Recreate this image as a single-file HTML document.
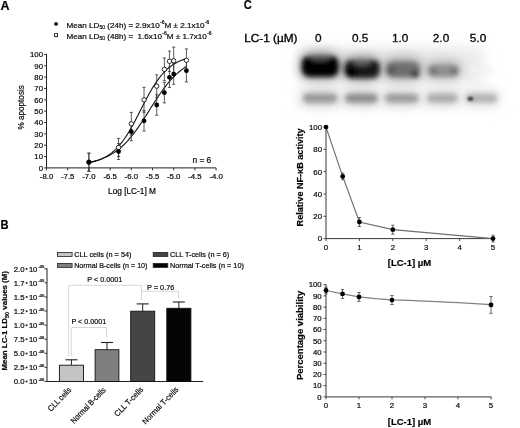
<!DOCTYPE html>
<html><head><meta charset="utf-8"><style>
html,body{margin:0;padding:0;background:#fff;width:520px;height:428px;overflow:hidden;}
svg{display:block;filter:blur(0.4px);font-family:"Liberation Sans",sans-serif;}
text{stroke:#1a1a1a;stroke-width:0.22px;}
</style></head><body>
<svg width="520" height="428" viewBox="0 0 520 428">
<rect width="520" height="428" fill="#fff"/>
<text x="0.6" y="9.8" font-size="12.5" font-weight="bold" font-family="&quot;Liberation Sans&quot;, sans-serif">A</text>
<path d="M46.5 53.9V167.9H216.1" stroke="#222" stroke-width="1" fill="none"/>
<line x1="44.0" y1="167.9" x2="46.5" y2="167.9" stroke="#222" stroke-width="0.9"/>
<text x="43.0" y="170.7" font-size="7.8" text-anchor="end" font-family="&quot;Liberation Sans&quot;, sans-serif">0</text>
<line x1="44.0" y1="156.55" x2="46.5" y2="156.55" stroke="#222" stroke-width="0.9"/>
<text x="43.0" y="159.35" font-size="7.8" text-anchor="end" font-family="&quot;Liberation Sans&quot;, sans-serif">10</text>
<line x1="44.0" y1="145.2" x2="46.5" y2="145.2" stroke="#222" stroke-width="0.9"/>
<text x="43.0" y="148" font-size="7.8" text-anchor="end" font-family="&quot;Liberation Sans&quot;, sans-serif">20</text>
<line x1="44.0" y1="133.85" x2="46.5" y2="133.85" stroke="#222" stroke-width="0.9"/>
<text x="43.0" y="136.65" font-size="7.8" text-anchor="end" font-family="&quot;Liberation Sans&quot;, sans-serif">30</text>
<line x1="44.0" y1="122.5" x2="46.5" y2="122.5" stroke="#222" stroke-width="0.9"/>
<text x="43.0" y="125.3" font-size="7.8" text-anchor="end" font-family="&quot;Liberation Sans&quot;, sans-serif">40</text>
<line x1="44.0" y1="111.15" x2="46.5" y2="111.15" stroke="#222" stroke-width="0.9"/>
<text x="43.0" y="113.95" font-size="7.8" text-anchor="end" font-family="&quot;Liberation Sans&quot;, sans-serif">50</text>
<line x1="44.0" y1="99.8" x2="46.5" y2="99.8" stroke="#222" stroke-width="0.9"/>
<text x="43.0" y="102.6" font-size="7.8" text-anchor="end" font-family="&quot;Liberation Sans&quot;, sans-serif">60</text>
<line x1="44.0" y1="88.45" x2="46.5" y2="88.45" stroke="#222" stroke-width="0.9"/>
<text x="43.0" y="91.25" font-size="7.8" text-anchor="end" font-family="&quot;Liberation Sans&quot;, sans-serif">70</text>
<line x1="44.0" y1="77.1" x2="46.5" y2="77.1" stroke="#222" stroke-width="0.9"/>
<text x="43.0" y="79.9" font-size="7.8" text-anchor="end" font-family="&quot;Liberation Sans&quot;, sans-serif">80</text>
<line x1="44.0" y1="65.75" x2="46.5" y2="65.75" stroke="#222" stroke-width="0.9"/>
<text x="43.0" y="68.55" font-size="7.8" text-anchor="end" font-family="&quot;Liberation Sans&quot;, sans-serif">90</text>
<line x1="44.0" y1="54.4" x2="46.5" y2="54.4" stroke="#222" stroke-width="0.9"/>
<text x="43.0" y="57.2" font-size="7.8" text-anchor="end" font-family="&quot;Liberation Sans&quot;, sans-serif">100</text>
<line x1="46.5" y1="167.9" x2="46.5" y2="170.4" stroke="#222" stroke-width="0.9"/>
<text x="46.5" y="179.2" font-size="7.8" text-anchor="middle" font-family="&quot;Liberation Sans&quot;, sans-serif">-8.0</text>
<line x1="67.7" y1="167.9" x2="67.7" y2="170.4" stroke="#222" stroke-width="0.9"/>
<text x="67.7" y="179.2" font-size="7.8" text-anchor="middle" font-family="&quot;Liberation Sans&quot;, sans-serif">-7.5</text>
<line x1="88.9" y1="167.9" x2="88.9" y2="170.4" stroke="#222" stroke-width="0.9"/>
<text x="88.9" y="179.2" font-size="7.8" text-anchor="middle" font-family="&quot;Liberation Sans&quot;, sans-serif">-7.0</text>
<line x1="110.1" y1="167.9" x2="110.1" y2="170.4" stroke="#222" stroke-width="0.9"/>
<text x="110.1" y="179.2" font-size="7.8" text-anchor="middle" font-family="&quot;Liberation Sans&quot;, sans-serif">-6.5</text>
<line x1="131.3" y1="167.9" x2="131.3" y2="170.4" stroke="#222" stroke-width="0.9"/>
<text x="131.3" y="179.2" font-size="7.8" text-anchor="middle" font-family="&quot;Liberation Sans&quot;, sans-serif">-6.0</text>
<line x1="152.5" y1="167.9" x2="152.5" y2="170.4" stroke="#222" stroke-width="0.9"/>
<text x="152.5" y="179.2" font-size="7.8" text-anchor="middle" font-family="&quot;Liberation Sans&quot;, sans-serif">-5.5</text>
<line x1="173.7" y1="167.9" x2="173.7" y2="170.4" stroke="#222" stroke-width="0.9"/>
<text x="173.7" y="179.2" font-size="7.8" text-anchor="middle" font-family="&quot;Liberation Sans&quot;, sans-serif">-5.0</text>
<line x1="194.9" y1="167.9" x2="194.9" y2="170.4" stroke="#222" stroke-width="0.9"/>
<text x="194.9" y="179.2" font-size="7.8" text-anchor="middle" font-family="&quot;Liberation Sans&quot;, sans-serif">-4.5</text>
<line x1="216.1" y1="167.9" x2="216.1" y2="170.4" stroke="#222" stroke-width="0.9"/>
<text x="216.1" y="179.2" font-size="7.8" text-anchor="middle" font-family="&quot;Liberation Sans&quot;, sans-serif">-4.0</text>
<text x="132.0" y="194" font-size="8.3" text-anchor="middle" font-family="&quot;Liberation Sans&quot;, sans-serif">Log [LC-1] M</text>
<text transform="translate(24.2,107.3) rotate(-90)" font-size="8.8" text-anchor="middle" textLength="44.2" lengthAdjust="spacingAndGlyphs" font-family="&quot;Liberation Sans&quot;, sans-serif">% apoptosis</text>
<text x="192.5" y="162.5" font-size="8.3" font-family="&quot;Liberation Sans&quot;, sans-serif">n = 6</text>
<rect x="54.4" y="22.4" width="3.3" height="3.1" fill="#000"/>
<rect x="54.6" y="33.7" width="3" height="3" fill="#fff" stroke="#000" stroke-width="0.8"/>
<text x="66.6" y="27.6" font-size="8.1" font-family="&quot;Liberation Sans&quot;, sans-serif">Mean LD<tspan font-size="5" dy="1.5">50</tspan><tspan dy="-1.5"> (24h) = 2.9x10</tspan><tspan font-size="5" dy="-3.6" dx="0.4">-6</tspan><tspan dy="3.6">M ± 2.1x10</tspan><tspan font-size="5" dy="-3.6" dx="0.4">-6</tspan></text>
<text x="66.6" y="38.5" font-size="8.1" style="white-space:pre" font-family="&quot;Liberation Sans&quot;, sans-serif">Mean LD<tspan font-size="5" dy="1.5">50</tspan><tspan dy="-1.5"> (48h) =  1.6x10</tspan><tspan font-size="5" dy="-3.6" dx="0.4">-6</tspan><tspan dy="3.6">M ± 1.7x10</tspan><tspan font-size="5" dy="-3.6" dx="0.4">-6</tspan></text>
<path d="M88.90,162.82 L90.12,162.57 L91.34,162.31 L92.56,162.02 L93.78,161.70 L94.99,161.36 L96.21,161.00 L97.43,160.60 L98.65,160.17 L99.87,159.70 L101.09,159.20 L102.31,158.66 L103.53,158.08 L104.75,157.45 L105.97,156.77 L107.19,156.04 L108.40,155.26 L109.62,154.42 L110.84,153.53 L112.06,152.57 L113.28,151.54 L114.50,150.45 L115.72,149.28 L116.94,148.05 L118.16,146.73 L119.38,145.35 L120.59,143.88 L121.81,142.33 L123.03,140.71 L124.25,139.01 L125.47,137.22 L126.69,135.37 L127.91,133.43 L129.13,131.43 L130.35,129.36 L131.56,127.22 L132.78,125.03 L134.00,122.79 L135.22,120.50 L136.44,118.18 L137.66,115.82 L138.88,113.44 L140.10,111.06 L141.32,108.66 L142.54,106.27 L143.75,103.90 L144.97,101.55 L146.19,99.23 L147.41,96.95 L148.63,94.71 L149.85,92.52 L151.07,90.40 L152.29,88.34 L153.51,86.34 L154.73,84.42 L155.94,82.57 L157.16,80.80 L158.38,79.10 L159.60,77.49 L160.82,75.95 L162.04,74.50 L163.26,73.12 L164.48,71.82 L165.70,70.59 L166.92,69.44 L168.13,68.35 L169.35,67.34 L170.57,66.38 L171.79,65.49 L173.01,64.66 L174.23,63.89 L175.45,63.17 L176.67,62.50 L177.89,61.88 L179.11,61.30 L180.32,60.76 L181.54,60.26 L182.76,59.80 L183.98,59.38 L185.20,58.98 L186.42,58.62" stroke="#111" stroke-width="1.1" fill="none"/>
<path d="M88.90,162.23 L90.12,162.00 L91.34,161.74 L92.56,161.47 L93.78,161.19 L94.99,160.88 L96.21,160.55 L97.43,160.21 L98.65,159.84 L99.87,159.44 L101.09,159.02 L102.31,158.58 L103.53,158.10 L104.75,157.60 L105.97,157.07 L107.19,156.50 L108.40,155.90 L109.62,155.27 L110.84,154.60 L112.06,153.89 L113.28,153.14 L114.50,152.34 L115.72,151.51 L116.94,150.63 L118.16,149.70 L119.38,148.73 L120.59,147.71 L121.81,146.64 L123.03,145.52 L124.25,144.35 L125.47,143.13 L126.69,141.86 L127.91,140.53 L129.13,139.15 L130.35,137.73 L131.56,136.25 L132.78,134.72 L134.00,133.15 L135.22,131.52 L136.44,129.86 L137.66,128.15 L138.88,126.41 L140.10,124.62 L141.32,122.81 L142.54,120.96 L143.75,119.09 L144.97,117.20 L146.19,115.29 L147.41,113.37 L148.63,111.44 L149.85,109.51 L151.07,107.58 L152.29,105.65 L153.51,103.74 L154.73,101.84 L155.94,99.96 L157.16,98.10 L158.38,96.27 L159.60,94.47 L160.82,92.71 L162.04,90.98 L163.26,89.30 L164.48,87.65 L165.70,86.06 L166.92,84.51 L168.13,83.00 L169.35,81.55 L170.57,80.15 L171.79,78.80 L173.01,77.50 L174.23,76.26 L175.45,75.06 L176.67,73.92 L177.89,72.82 L179.11,71.78 L180.32,70.79 L181.54,69.84 L182.76,68.94 L183.98,68.08 L185.20,67.27 L186.42,66.50" stroke="#111" stroke-width="1.1" fill="none"/>
<line x1="88.9" y1="153.15" x2="88.9" y2="171.31" stroke="#333" stroke-width="0.8"/><line x1="87.3" y1="153.15" x2="90.5" y2="153.15" stroke="#333" stroke-width="0.8"/><line x1="87.3" y1="171.31" x2="90.5" y2="171.31" stroke="#333" stroke-width="0.8"/>
<line x1="118.58" y1="138.39" x2="118.58" y2="156.55" stroke="#333" stroke-width="0.8"/><line x1="116.98" y1="138.39" x2="120.18" y2="138.39" stroke="#333" stroke-width="0.8"/><line x1="116.98" y1="156.55" x2="120.18" y2="156.55" stroke="#333" stroke-width="0.8"/>
<line x1="131.3" y1="112.4" x2="131.3" y2="135.1" stroke="#333" stroke-width="0.8"/><line x1="129.7" y1="112.4" x2="132.9" y2="112.4" stroke="#333" stroke-width="0.8"/><line x1="129.7" y1="135.1" x2="132.9" y2="135.1" stroke="#333" stroke-width="0.8"/>
<line x1="144.02" y1="87.32" x2="144.02" y2="112.28" stroke="#333" stroke-width="0.8"/><line x1="142.42" y1="87.32" x2="145.62" y2="87.32" stroke="#333" stroke-width="0.8"/><line x1="142.42" y1="112.28" x2="145.62" y2="112.28" stroke="#333" stroke-width="0.8"/>
<line x1="156.74" y1="74.83" x2="156.74" y2="97.53" stroke="#333" stroke-width="0.8"/><line x1="155.14" y1="74.83" x2="158.34" y2="74.83" stroke="#333" stroke-width="0.8"/><line x1="155.14" y1="97.53" x2="158.34" y2="97.53" stroke="#333" stroke-width="0.8"/>
<line x1="164.37" y1="58.03" x2="164.37" y2="80.73" stroke="#333" stroke-width="0.8"/><line x1="162.77" y1="58.03" x2="165.97" y2="58.03" stroke="#333" stroke-width="0.8"/><line x1="162.77" y1="80.73" x2="165.97" y2="80.73" stroke="#333" stroke-width="0.8"/>
<line x1="169.46" y1="51.11" x2="169.46" y2="71.54" stroke="#333" stroke-width="0.8"/><line x1="167.86" y1="51.11" x2="171.06" y2="51.11" stroke="#333" stroke-width="0.8"/><line x1="167.86" y1="71.54" x2="171.06" y2="71.54" stroke="#333" stroke-width="0.8"/>
<line x1="173.7" y1="47.14" x2="173.7" y2="74.38" stroke="#333" stroke-width="0.8"/><line x1="172.1" y1="47.14" x2="175.3" y2="47.14" stroke="#333" stroke-width="0.8"/><line x1="172.1" y1="74.38" x2="175.3" y2="74.38" stroke="#333" stroke-width="0.8"/>
<line x1="186.42" y1="48.95" x2="186.42" y2="71.65" stroke="#333" stroke-width="0.8"/><line x1="184.82" y1="48.95" x2="188.02" y2="48.95" stroke="#333" stroke-width="0.8"/><line x1="184.82" y1="71.65" x2="188.02" y2="71.65" stroke="#333" stroke-width="0.8"/>
<line x1="88.9" y1="153.15" x2="88.9" y2="171.31" stroke="#333" stroke-width="0.8"/><line x1="87.3" y1="153.15" x2="90.5" y2="153.15" stroke="#333" stroke-width="0.8"/><line x1="87.3" y1="171.31" x2="90.5" y2="171.31" stroke="#333" stroke-width="0.8"/>
<line x1="118.58" y1="143.61" x2="118.58" y2="159.5" stroke="#333" stroke-width="0.8"/><line x1="116.98" y1="143.61" x2="120.18" y2="143.61" stroke="#333" stroke-width="0.8"/><line x1="116.98" y1="159.5" x2="120.18" y2="159.5" stroke="#333" stroke-width="0.8"/>
<line x1="131.3" y1="122.61" x2="131.3" y2="140.77" stroke="#333" stroke-width="0.8"/><line x1="129.7" y1="122.61" x2="132.9" y2="122.61" stroke="#333" stroke-width="0.8"/><line x1="129.7" y1="140.77" x2="132.9" y2="140.77" stroke="#333" stroke-width="0.8"/>
<line x1="144.02" y1="110.58" x2="144.02" y2="131.01" stroke="#333" stroke-width="0.8"/><line x1="142.42" y1="110.58" x2="145.62" y2="110.58" stroke="#333" stroke-width="0.8"/><line x1="142.42" y1="131.01" x2="145.62" y2="131.01" stroke="#333" stroke-width="0.8"/>
<line x1="156.74" y1="94.81" x2="156.74" y2="115.24" stroke="#333" stroke-width="0.8"/><line x1="155.14" y1="94.81" x2="158.34" y2="94.81" stroke="#333" stroke-width="0.8"/><line x1="155.14" y1="115.24" x2="158.34" y2="115.24" stroke="#333" stroke-width="0.8"/>
<line x1="164.37" y1="82.43" x2="164.37" y2="102.86" stroke="#333" stroke-width="0.8"/><line x1="162.77" y1="82.43" x2="165.97" y2="82.43" stroke="#333" stroke-width="0.8"/><line x1="162.77" y1="102.86" x2="165.97" y2="102.86" stroke="#333" stroke-width="0.8"/>
<line x1="169.46" y1="67.11" x2="169.46" y2="87.54" stroke="#333" stroke-width="0.8"/><line x1="167.86" y1="67.11" x2="171.06" y2="67.11" stroke="#333" stroke-width="0.8"/><line x1="167.86" y1="87.54" x2="171.06" y2="87.54" stroke="#333" stroke-width="0.8"/>
<line x1="173.7" y1="63.82" x2="173.7" y2="84.25" stroke="#333" stroke-width="0.8"/><line x1="172.1" y1="63.82" x2="175.3" y2="63.82" stroke="#333" stroke-width="0.8"/><line x1="172.1" y1="84.25" x2="175.3" y2="84.25" stroke="#333" stroke-width="0.8"/>
<line x1="186.42" y1="59.28" x2="186.42" y2="81.98" stroke="#333" stroke-width="0.8"/><line x1="184.82" y1="59.28" x2="188.02" y2="59.28" stroke="#333" stroke-width="0.8"/><line x1="184.82" y1="81.98" x2="188.02" y2="81.98" stroke="#333" stroke-width="0.8"/>
<circle cx="88.9" cy="162.22" r="2.2" fill="#fff" stroke="#000" stroke-width="0.8"/>
<circle cx="118.58" cy="147.47" r="2.2" fill="#fff" stroke="#000" stroke-width="0.8"/>
<circle cx="131.3" cy="123.75" r="2.2" fill="#fff" stroke="#000" stroke-width="0.8"/>
<circle cx="144.02" cy="99.8" r="2.2" fill="#fff" stroke="#000" stroke-width="0.8"/>
<circle cx="156.74" cy="86.18" r="2.2" fill="#fff" stroke="#000" stroke-width="0.8"/>
<circle cx="164.37" cy="69.38" r="2.2" fill="#fff" stroke="#000" stroke-width="0.8"/>
<circle cx="169.46" cy="61.32" r="2.2" fill="#fff" stroke="#000" stroke-width="0.8"/>
<circle cx="173.7" cy="60.76" r="2.2" fill="#fff" stroke="#000" stroke-width="0.8"/>
<circle cx="186.42" cy="60.3" r="2.2" fill="#fff" stroke="#000" stroke-width="0.8"/>
<circle cx="88.9" cy="162.22" r="2.4" fill="#000"/>
<circle cx="118.58" cy="151.56" r="2.4" fill="#000"/>
<circle cx="131.3" cy="131.69" r="2.4" fill="#000"/>
<circle cx="144.02" cy="120.8" r="2.4" fill="#000"/>
<circle cx="156.74" cy="105.02" r="2.4" fill="#000"/>
<circle cx="164.37" cy="92.65" r="2.4" fill="#000"/>
<circle cx="169.46" cy="77.33" r="2.4" fill="#000"/>
<circle cx="173.7" cy="74.04" r="2.4" fill="#000"/>
<circle cx="186.42" cy="70.63" r="2.4" fill="#000"/>
<text x="0.6" y="229.4" font-size="12.5" font-weight="bold" textLength="8.1" lengthAdjust="spacingAndGlyphs" font-family="&quot;Liberation Sans&quot;, sans-serif">B</text>
<path d="M47 268.28V381.5H203.2" stroke="#222" stroke-width="1" fill="none"/>
<line x1="44.5" y1="381.5" x2="47" y2="381.5" stroke="#222" stroke-width="0.9"/>
<text x="13.7" y="384.3" font-size="7.8" font-family="&quot;Liberation Sans&quot;, sans-serif">0.0</text>
<circle cx="26.6" cy="381.6" r="1" fill="#222"/>
<text x="28.9" y="384.3" font-size="7.6" font-family="&quot;Liberation Sans&quot;, sans-serif">10</text>
<text x="38.4" y="381.1" font-size="4.2" font-family="&quot;Liberation Sans&quot;, sans-serif">-06</text>
<line x1="44.5" y1="367.41" x2="47" y2="367.41" stroke="#222" stroke-width="0.9"/>
<text x="13.7" y="370.21" font-size="7.8" font-family="&quot;Liberation Sans&quot;, sans-serif">2.5</text>
<circle cx="26.6" cy="367.51" r="1" fill="#222"/>
<text x="28.9" y="370.21" font-size="7.6" font-family="&quot;Liberation Sans&quot;, sans-serif">10</text>
<text x="38.4" y="367.01" font-size="4.2" font-family="&quot;Liberation Sans&quot;, sans-serif">-06</text>
<line x1="44.5" y1="353.32" x2="47" y2="353.32" stroke="#222" stroke-width="0.9"/>
<text x="13.7" y="356.12" font-size="7.8" font-family="&quot;Liberation Sans&quot;, sans-serif">5.0</text>
<circle cx="26.6" cy="353.42" r="1" fill="#222"/>
<text x="28.9" y="356.12" font-size="7.6" font-family="&quot;Liberation Sans&quot;, sans-serif">10</text>
<text x="38.4" y="352.92" font-size="4.2" font-family="&quot;Liberation Sans&quot;, sans-serif">-06</text>
<line x1="44.5" y1="339.23" x2="47" y2="339.23" stroke="#222" stroke-width="0.9"/>
<text x="13.7" y="342.03" font-size="7.8" font-family="&quot;Liberation Sans&quot;, sans-serif">7.5</text>
<circle cx="26.6" cy="339.33" r="1" fill="#222"/>
<text x="28.9" y="342.03" font-size="7.6" font-family="&quot;Liberation Sans&quot;, sans-serif">10</text>
<text x="38.4" y="338.83" font-size="4.2" font-family="&quot;Liberation Sans&quot;, sans-serif">-06</text>
<line x1="44.5" y1="325.14" x2="47" y2="325.14" stroke="#222" stroke-width="0.9"/>
<text x="13.7" y="327.94" font-size="7.8" font-family="&quot;Liberation Sans&quot;, sans-serif">1.0</text>
<circle cx="26.6" cy="325.24" r="1" fill="#222"/>
<text x="28.9" y="327.94" font-size="7.6" font-family="&quot;Liberation Sans&quot;, sans-serif">10</text>
<text x="38.4" y="324.74" font-size="4.2" font-family="&quot;Liberation Sans&quot;, sans-serif">-05</text>
<line x1="44.5" y1="311.05" x2="47" y2="311.05" stroke="#222" stroke-width="0.9"/>
<text x="13.7" y="313.85" font-size="7.8" font-family="&quot;Liberation Sans&quot;, sans-serif">1.2</text>
<circle cx="26.6" cy="311.15" r="1" fill="#222"/>
<text x="28.9" y="313.85" font-size="7.6" font-family="&quot;Liberation Sans&quot;, sans-serif">10</text>
<text x="38.4" y="310.65" font-size="4.2" font-family="&quot;Liberation Sans&quot;, sans-serif">-05</text>
<line x1="44.5" y1="296.96" x2="47" y2="296.96" stroke="#222" stroke-width="0.9"/>
<text x="13.7" y="299.76" font-size="7.8" font-family="&quot;Liberation Sans&quot;, sans-serif">1.5</text>
<circle cx="26.6" cy="297.06" r="1" fill="#222"/>
<text x="28.9" y="299.76" font-size="7.6" font-family="&quot;Liberation Sans&quot;, sans-serif">10</text>
<text x="38.4" y="296.56" font-size="4.2" font-family="&quot;Liberation Sans&quot;, sans-serif">-05</text>
<line x1="44.5" y1="282.87" x2="47" y2="282.87" stroke="#222" stroke-width="0.9"/>
<text x="13.7" y="285.67" font-size="7.8" font-family="&quot;Liberation Sans&quot;, sans-serif">1.7</text>
<circle cx="26.6" cy="282.97" r="1" fill="#222"/>
<text x="28.9" y="285.67" font-size="7.6" font-family="&quot;Liberation Sans&quot;, sans-serif">10</text>
<text x="38.4" y="282.47" font-size="4.2" font-family="&quot;Liberation Sans&quot;, sans-serif">-05</text>
<line x1="44.5" y1="268.78" x2="47" y2="268.78" stroke="#222" stroke-width="0.9"/>
<text x="13.7" y="271.58" font-size="7.8" font-family="&quot;Liberation Sans&quot;, sans-serif">2.0</text>
<circle cx="26.6" cy="268.88" r="1" fill="#222"/>
<text x="28.9" y="271.58" font-size="7.6" font-family="&quot;Liberation Sans&quot;, sans-serif">10</text>
<text x="38.4" y="268.38" font-size="4.2" font-family="&quot;Liberation Sans&quot;, sans-serif">-05</text>
<text transform="translate(7.3,320.8) rotate(-90)" font-size="7.9" font-weight="bold" text-anchor="middle" font-family="&quot;Liberation Sans&quot;, sans-serif">Mean LC-1 LD<tspan font-size="5.5" dy="1.5">50</tspan><tspan dy="-1.5"> values (M)</tspan></text>
<line x1="71.45" y1="359.8" x2="71.45" y2="365.2" stroke="#222" stroke-width="1"/>
<line x1="65.45" y1="359.8" x2="77.45" y2="359.8" stroke="#222" stroke-width="1.1"/>
<rect x="59.4" y="365.2" width="24.1" height="16.3" fill="#c4c4c4" stroke="#111" stroke-width="0.9"/>
<line x1="107.0" y1="342.5" x2="107.0" y2="349.7" stroke="#222" stroke-width="1"/>
<line x1="101.0" y1="342.5" x2="113.0" y2="342.5" stroke="#222" stroke-width="1.1"/>
<rect x="95.1" y="349.7" width="23.8" height="31.8" fill="#7f7f7f" stroke="#111" stroke-width="0.9"/>
<line x1="142.7" y1="303.9" x2="142.7" y2="311.2" stroke="#222" stroke-width="1"/>
<line x1="136.7" y1="303.9" x2="148.7" y2="303.9" stroke="#222" stroke-width="1.1"/>
<rect x="130.7" y="311.2" width="24.0" height="70.3" fill="#454545" stroke="#111" stroke-width="0.9"/>
<line x1="178.85" y1="302" x2="178.85" y2="308.3" stroke="#222" stroke-width="1"/>
<line x1="172.85" y1="302" x2="184.85" y2="302" stroke="#222" stroke-width="1.1"/>
<rect x="166.8" y="308.3" width="24.1" height="73.2" fill="#050505" stroke="#111" stroke-width="0.9"/>
<path d="M68.7 356V285.3H141.5V299.5" stroke="#d2d2d2" stroke-width="0.9" fill="none"/>
<path d="M71.4 356V327.5H106.5V338" stroke="#d2d2d2" stroke-width="0.9" fill="none"/>
<path d="M141.5 300V291.3H178.5V298" stroke="#d2d2d2" stroke-width="0.9" fill="none"/>
<text x="87.3" y="282.4" font-size="8" textLength="35" lengthAdjust="spacingAndGlyphs" font-family="&quot;Liberation Sans&quot;, sans-serif">P &lt; 0.0001</text>
<text x="71.4" y="324.4" font-size="8" textLength="35" lengthAdjust="spacingAndGlyphs" font-family="&quot;Liberation Sans&quot;, sans-serif">P &lt; 0.0001</text>
<text x="147" y="290" font-size="8" textLength="27.3" lengthAdjust="spacingAndGlyphs" font-family="&quot;Liberation Sans&quot;, sans-serif">P = 0.76</text>
<rect x="57.5" y="252.4" width="14.6" height="4" fill="#c4c4c4" stroke="#222" stroke-width="0.8"/>
<text x="74.2" y="256.7" font-size="7.8" textLength="57.3" lengthAdjust="spacingAndGlyphs" font-family="&quot;Liberation Sans&quot;, sans-serif">CLL cells (n = 54)</text>
<rect x="57.5" y="263.4" width="14.6" height="4" fill="#7f7f7f" stroke="#222" stroke-width="0.8"/>
<text x="74.2" y="267.7" font-size="7.8" textLength="73.3" lengthAdjust="spacingAndGlyphs" font-family="&quot;Liberation Sans&quot;, sans-serif">Normal B-cells (n = 10)</text>
<rect x="153.2" y="252.4" width="14.6" height="4" fill="#454545" stroke="#222" stroke-width="0.8"/>
<text x="169.9" y="256.7" font-size="7.8" textLength="59.4" lengthAdjust="spacingAndGlyphs" font-family="&quot;Liberation Sans&quot;, sans-serif">CLL T-cells (n = 6)</text>
<rect x="153.2" y="263.4" width="14.6" height="4" fill="#050505" stroke="#222" stroke-width="0.8"/>
<text x="169.9" y="267.7" font-size="7.8" textLength="74" lengthAdjust="spacingAndGlyphs" font-family="&quot;Liberation Sans&quot;, sans-serif">Normal T-cells (n = 10)</text>
<text transform="translate(71.8,390.3) rotate(-46)" font-size="8" text-anchor="end" textLength="30.00" lengthAdjust="spacingAndGlyphs" font-family="&quot;Liberation Sans&quot;, sans-serif">CLL cells</text>
<text transform="translate(106.2,390.6) rotate(-46)" font-size="8" text-anchor="end" textLength="46.30" lengthAdjust="spacingAndGlyphs" font-family="&quot;Liberation Sans&quot;, sans-serif">Normal B-cells</text>
<text transform="translate(143.7,390) rotate(-46)" font-size="8" text-anchor="end" textLength="37.60" lengthAdjust="spacingAndGlyphs" font-family="&quot;Liberation Sans&quot;, sans-serif">CLL T-cells</text>
<text transform="translate(179,390) rotate(-46)" font-size="8" text-anchor="end" textLength="48.20" lengthAdjust="spacingAndGlyphs" font-family="&quot;Liberation Sans&quot;, sans-serif">Normal T-cells</text>
<text x="243.7" y="8.7" font-size="12" font-weight="bold" textLength="8.0" lengthAdjust="spacingAndGlyphs" font-family="&quot;Liberation Sans&quot;, sans-serif">C</text>
<text x="244.2" y="41.7" font-size="11.8" style="stroke:#000;stroke-width:0.35px" font-family="&quot;Liberation Sans&quot;, sans-serif">LC-1 (µM)</text>
<text x="318.3" y="41.7" font-size="11.8" text-anchor="middle" style="stroke:#000;stroke-width:0.35px" font-family="&quot;Liberation Sans&quot;, sans-serif">0</text>
<text x="360.2" y="41.7" font-size="11.8" text-anchor="middle" style="stroke:#000;stroke-width:0.35px" font-family="&quot;Liberation Sans&quot;, sans-serif">0.5</text>
<text x="400.2" y="41.7" font-size="11.8" text-anchor="middle" style="stroke:#000;stroke-width:0.35px" font-family="&quot;Liberation Sans&quot;, sans-serif">1.0</text>
<text x="441" y="41.7" font-size="11.8" text-anchor="middle" style="stroke:#000;stroke-width:0.35px" font-family="&quot;Liberation Sans&quot;, sans-serif">2.0</text>
<text x="478" y="41.7" font-size="11.8" text-anchor="middle" style="stroke:#000;stroke-width:0.35px" font-family="&quot;Liberation Sans&quot;, sans-serif">5.0</text>
<defs><filter id="b6" x="-50%" y="-100%" width="200%" height="300%"><feGaussianBlur stdDeviation="6"/></filter><filter id="b25" x="-50%" y="-100%" width="200%" height="300%"><feGaussianBlur stdDeviation="2.5"/></filter><filter id="b2" x="-50%" y="-100%" width="200%" height="300%"><feGaussianBlur stdDeviation="2"/></filter><filter id="b1" x="-50%" y="-100%" width="200%" height="300%"><feGaussianBlur stdDeviation="1"/></filter></defs>
<g filter="url(#b6)">
<rect x="298" y="47" width="186" height="36" rx="10" fill="#ebebeb"/>
<rect x="298" y="86" width="202" height="22" rx="8" fill="#f8f8f8"/>
</g>
<g filter="url(#b6)" opacity="0.45">
<rect x="301" y="53" width="38" height="26" rx="9" fill="#000"/>
<rect x="343.5" y="57" width="37" height="23" rx="9" fill="#111"/>
<rect x="384" y="57" width="38" height="23" rx="9" fill="#555"/>
<rect x="426" y="60" width="35" height="19" rx="8" fill="#777"/>
<rect x="301" y="91" width="37" height="14" rx="6" fill="#888"/>
<rect x="344" y="91" width="35" height="14" rx="6" fill="#888"/>
<rect x="384" y="91" width="36" height="14" rx="6" fill="#999"/>
<rect x="426" y="91" width="33" height="14" rx="6" fill="#aaa"/>
<rect x="465" y="91" width="33" height="14" rx="6" fill="#bbb"/>
</g>
<g filter="url(#b25)">
<rect x="302" y="56.5" width="36.3" height="20" rx="7" fill="#050505"/>
<ellipse cx="320" cy="58" rx="10" ry="2.5" fill="#555"/>
<rect x="344.8" y="60.3" width="34.7" height="17.4" rx="7" fill="#121212"/>
<ellipse cx="351" cy="72" rx="6" ry="4" fill="#000"/>
<ellipse cx="362" cy="62.5" rx="9" ry="3" fill="#606060"/>
<rect x="386.5" y="62" width="33" height="15" rx="6" fill="#6e6e6e"/>
<ellipse cx="415" cy="74" rx="4" ry="3.2" fill="#2a2a2a"/>
<ellipse cx="391" cy="70" rx="4" ry="4" fill="#555"/>
<rect x="428.5" y="65" width="30" height="11.5" rx="5" fill="#8e8e8e"/>
<ellipse cx="433" cy="71" rx="3.5" ry="4" fill="#707070"/>
<ellipse cx="454" cy="71" rx="3.5" ry="4" fill="#707070"/>
<rect x="470" y="67" width="24" height="7" rx="3" fill="#f2f2f2"/>
</g>
<g filter="url(#b25)">
<rect x="303.5" y="94" width="33.0" height="8.6" rx="3.5" fill="#989898"/>
<rect x="345.5" y="94" width="31.5" height="8.6" rx="3.5" fill="#8e8e8e"/>
<rect x="385.5" y="94" width="32.5" height="8.6" rx="3.5" fill="#9e9e9e"/>
<rect x="427.5" y="94" width="29.5" height="8.6" rx="3.5" fill="#acacac"/>
<rect x="466" y="94" width="31" height="8.6" rx="3.5" fill="#b4b4b4"/>
</g>
<ellipse cx="470.5" cy="98.8" rx="2.8" ry="2" fill="#3a3a3a" filter="url(#b1)"/>
<path d="M326.0 126.6V238.6H493.5" stroke="#222" stroke-width="0.9" fill="none"/>
<line x1="323.5" y1="238.6" x2="326.0" y2="238.6" stroke="#222" stroke-width="0.8"/>
<text x="322.0" y="241.4" font-size="7.8" text-anchor="end" font-family="&quot;Liberation Sans&quot;, sans-serif">0</text>
<line x1="323.5" y1="216.3" x2="326.0" y2="216.3" stroke="#222" stroke-width="0.8"/>
<text x="322.0" y="219.1" font-size="7.8" text-anchor="end" font-family="&quot;Liberation Sans&quot;, sans-serif">20</text>
<line x1="323.5" y1="194.0" x2="326.0" y2="194.0" stroke="#222" stroke-width="0.8"/>
<text x="322.0" y="196.8" font-size="7.8" text-anchor="end" font-family="&quot;Liberation Sans&quot;, sans-serif">40</text>
<line x1="323.5" y1="171.7" x2="326.0" y2="171.7" stroke="#222" stroke-width="0.8"/>
<text x="322.0" y="174.5" font-size="7.8" text-anchor="end" font-family="&quot;Liberation Sans&quot;, sans-serif">60</text>
<line x1="323.5" y1="149.4" x2="326.0" y2="149.4" stroke="#222" stroke-width="0.8"/>
<text x="322.0" y="152.2" font-size="7.8" text-anchor="end" font-family="&quot;Liberation Sans&quot;, sans-serif">80</text>
<line x1="323.5" y1="127.1" x2="326.0" y2="127.1" stroke="#222" stroke-width="0.8"/>
<text x="322.0" y="129.9" font-size="7.8" text-anchor="end" font-family="&quot;Liberation Sans&quot;, sans-serif">100</text>
<line x1="326.0" y1="238.6" x2="326.0" y2="241.1" stroke="#222" stroke-width="0.8"/>
<text x="326.0" y="250" font-size="7.8" text-anchor="middle" font-family="&quot;Liberation Sans&quot;, sans-serif">0</text>
<line x1="359.4" y1="238.6" x2="359.4" y2="241.1" stroke="#222" stroke-width="0.8"/>
<text x="359.4" y="250" font-size="7.8" text-anchor="middle" font-family="&quot;Liberation Sans&quot;, sans-serif">1</text>
<line x1="392.8" y1="238.6" x2="392.8" y2="241.1" stroke="#222" stroke-width="0.8"/>
<text x="392.8" y="250" font-size="7.8" text-anchor="middle" font-family="&quot;Liberation Sans&quot;, sans-serif">2</text>
<line x1="426.2" y1="238.6" x2="426.2" y2="241.1" stroke="#222" stroke-width="0.8"/>
<text x="426.2" y="250" font-size="7.8" text-anchor="middle" font-family="&quot;Liberation Sans&quot;, sans-serif">3</text>
<line x1="459.6" y1="238.6" x2="459.6" y2="241.1" stroke="#222" stroke-width="0.8"/>
<text x="459.6" y="250" font-size="7.8" text-anchor="middle" font-family="&quot;Liberation Sans&quot;, sans-serif">4</text>
<line x1="493.0" y1="238.6" x2="493.0" y2="241.1" stroke="#222" stroke-width="0.8"/>
<text x="493.0" y="250" font-size="7.8" text-anchor="middle" font-family="&quot;Liberation Sans&quot;, sans-serif">5</text>
<path d="M326.00,127.10 L342.70,176.38 L359.40,221.99 L392.80,229.68 L493.00,238.60" stroke="#707070" stroke-width="1.2" fill="none"/>
<circle cx="326.0" cy="127.1" r="2.4" fill="#000"/>
<line x1="342.7" y1="173.04" x2="342.7" y2="179.73" stroke="#444" stroke-width="0.8"/>
<line x1="341.1" y1="173.04" x2="344.3" y2="173.04" stroke="#444" stroke-width="0.8"/>
<line x1="341.1" y1="179.73" x2="344.3" y2="179.73" stroke="#444" stroke-width="0.8"/>
<circle cx="342.7" cy="176.38" r="2.4" fill="#000"/>
<line x1="359.4" y1="217.53" x2="359.4" y2="226.45" stroke="#444" stroke-width="0.8"/>
<line x1="357.8" y1="217.53" x2="361.0" y2="217.53" stroke="#444" stroke-width="0.8"/>
<line x1="357.8" y1="226.45" x2="361.0" y2="226.45" stroke="#444" stroke-width="0.8"/>
<circle cx="359.4" cy="221.99" r="2.4" fill="#000"/>
<line x1="392.8" y1="225.22" x2="392.8" y2="234.14" stroke="#444" stroke-width="0.8"/>
<line x1="391.2" y1="225.22" x2="394.4" y2="225.22" stroke="#444" stroke-width="0.8"/>
<line x1="391.2" y1="234.14" x2="394.4" y2="234.14" stroke="#444" stroke-width="0.8"/>
<circle cx="392.8" cy="229.68" r="2.4" fill="#000"/>
<line x1="493.0" y1="235.25" x2="493.0" y2="241.94" stroke="#444" stroke-width="0.8"/>
<line x1="491.4" y1="235.25" x2="494.6" y2="235.25" stroke="#444" stroke-width="0.8"/>
<line x1="491.4" y1="241.94" x2="494.6" y2="241.94" stroke="#444" stroke-width="0.8"/>
<circle cx="493.0" cy="238.6" r="2.4" fill="#000"/>
<text transform="translate(302.5,177.4) rotate(-90)" font-size="9.1" font-weight="bold" text-anchor="middle" font-family="&quot;Liberation Sans&quot;, sans-serif">Relative NF-κB activity</text>
<text x="409.5" y="265.5" font-size="9.5" font-weight="bold" text-anchor="middle" font-family="&quot;Liberation Sans&quot;, sans-serif">[LC-1] µM</text>
<path d="M326.0 284.15V396.9H491.5" stroke="#222" stroke-width="0.9" fill="none"/>
<line x1="323.5" y1="396.9" x2="326.0" y2="396.9" stroke="#222" stroke-width="0.8"/>
<text x="321.7" y="399.7" font-size="7.8" text-anchor="end" font-family="&quot;Liberation Sans&quot;, sans-serif">0</text>
<line x1="323.5" y1="385.67" x2="326.0" y2="385.67" stroke="#222" stroke-width="0.8"/>
<text x="321.7" y="388.47" font-size="7.8" text-anchor="end" font-family="&quot;Liberation Sans&quot;, sans-serif">10</text>
<line x1="323.5" y1="374.45" x2="326.0" y2="374.45" stroke="#222" stroke-width="0.8"/>
<text x="321.7" y="377.25" font-size="7.8" text-anchor="end" font-family="&quot;Liberation Sans&quot;, sans-serif">20</text>
<line x1="323.5" y1="363.22" x2="326.0" y2="363.22" stroke="#222" stroke-width="0.8"/>
<text x="321.7" y="366.02" font-size="7.8" text-anchor="end" font-family="&quot;Liberation Sans&quot;, sans-serif">30</text>
<line x1="323.5" y1="352.0" x2="326.0" y2="352.0" stroke="#222" stroke-width="0.8"/>
<text x="321.7" y="354.8" font-size="7.8" text-anchor="end" font-family="&quot;Liberation Sans&quot;, sans-serif">40</text>
<line x1="323.5" y1="340.77" x2="326.0" y2="340.77" stroke="#222" stroke-width="0.8"/>
<text x="321.7" y="343.57" font-size="7.8" text-anchor="end" font-family="&quot;Liberation Sans&quot;, sans-serif">50</text>
<line x1="323.5" y1="329.55" x2="326.0" y2="329.55" stroke="#222" stroke-width="0.8"/>
<text x="321.7" y="332.35" font-size="7.8" text-anchor="end" font-family="&quot;Liberation Sans&quot;, sans-serif">60</text>
<line x1="323.5" y1="318.32" x2="326.0" y2="318.32" stroke="#222" stroke-width="0.8"/>
<text x="321.7" y="321.12" font-size="7.8" text-anchor="end" font-family="&quot;Liberation Sans&quot;, sans-serif">70</text>
<line x1="323.5" y1="307.1" x2="326.0" y2="307.1" stroke="#222" stroke-width="0.8"/>
<text x="321.7" y="309.9" font-size="7.8" text-anchor="end" font-family="&quot;Liberation Sans&quot;, sans-serif">80</text>
<line x1="323.5" y1="295.88" x2="326.0" y2="295.88" stroke="#222" stroke-width="0.8"/>
<text x="321.7" y="298.68" font-size="7.8" text-anchor="end" font-family="&quot;Liberation Sans&quot;, sans-serif">90</text>
<line x1="323.5" y1="284.65" x2="326.0" y2="284.65" stroke="#222" stroke-width="0.8"/>
<text x="321.7" y="287.45" font-size="7.8" text-anchor="end" font-family="&quot;Liberation Sans&quot;, sans-serif">100</text>
<line x1="326.0" y1="396.9" x2="326.0" y2="399.4" stroke="#222" stroke-width="0.8"/>
<text x="326.0" y="408" font-size="7.8" text-anchor="middle" font-family="&quot;Liberation Sans&quot;, sans-serif">0</text>
<line x1="359.0" y1="396.9" x2="359.0" y2="399.4" stroke="#222" stroke-width="0.8"/>
<text x="359.0" y="408" font-size="7.8" text-anchor="middle" font-family="&quot;Liberation Sans&quot;, sans-serif">1</text>
<line x1="392.0" y1="396.9" x2="392.0" y2="399.4" stroke="#222" stroke-width="0.8"/>
<text x="392.0" y="408" font-size="7.8" text-anchor="middle" font-family="&quot;Liberation Sans&quot;, sans-serif">2</text>
<line x1="425.0" y1="396.9" x2="425.0" y2="399.4" stroke="#222" stroke-width="0.8"/>
<text x="425.0" y="408" font-size="7.8" text-anchor="middle" font-family="&quot;Liberation Sans&quot;, sans-serif">3</text>
<line x1="458.0" y1="396.9" x2="458.0" y2="399.4" stroke="#222" stroke-width="0.8"/>
<text x="458.0" y="408" font-size="7.8" text-anchor="middle" font-family="&quot;Liberation Sans&quot;, sans-serif">4</text>
<line x1="491.0" y1="396.9" x2="491.0" y2="399.4" stroke="#222" stroke-width="0.8"/>
<text x="491.0" y="408" font-size="7.8" text-anchor="middle" font-family="&quot;Liberation Sans&quot;, sans-serif">5</text>
<path d="M326.00,290.49 L342.50,293.85 L359.00,296.77 L375.50,298.57 L392.00,299.92 L408.50,300.48 L425.00,301.15 L441.50,301.82 L458.00,302.61 L474.50,303.62 L491.00,304.74" stroke="#808080" stroke-width="1.25" fill="none"/>
<line x1="326.0" y1="287.12" x2="326.0" y2="293.85" stroke="#444" stroke-width="0.8"/>
<line x1="324.4" y1="287.12" x2="327.6" y2="287.12" stroke="#444" stroke-width="0.8"/>
<line x1="324.4" y1="293.85" x2="327.6" y2="293.85" stroke="#444" stroke-width="0.8"/>
<circle cx="326.0" cy="290.49" r="2.4" fill="#000"/>
<line x1="342.5" y1="289.48" x2="342.5" y2="298.46" stroke="#444" stroke-width="0.8"/>
<line x1="340.9" y1="289.48" x2="344.1" y2="289.48" stroke="#444" stroke-width="0.8"/>
<line x1="340.9" y1="298.46" x2="344.1" y2="298.46" stroke="#444" stroke-width="0.8"/>
<circle cx="342.5" cy="293.97" r="2.4" fill="#000"/>
<line x1="359.0" y1="292.51" x2="359.0" y2="301.49" stroke="#444" stroke-width="0.8"/>
<line x1="357.4" y1="292.51" x2="360.6" y2="292.51" stroke="#444" stroke-width="0.8"/>
<line x1="357.4" y1="301.49" x2="360.6" y2="301.49" stroke="#444" stroke-width="0.8"/>
<circle cx="359.0" cy="297" r="2.4" fill="#000"/>
<line x1="392.0" y1="295.54" x2="392.0" y2="304.52" stroke="#444" stroke-width="0.8"/>
<line x1="390.4" y1="295.54" x2="393.6" y2="295.54" stroke="#444" stroke-width="0.8"/>
<line x1="390.4" y1="304.52" x2="393.6" y2="304.52" stroke="#444" stroke-width="0.8"/>
<circle cx="392.0" cy="300.03" r="2.4" fill="#000"/>
<line x1="491.0" y1="296.55" x2="491.0" y2="313.39" stroke="#444" stroke-width="0.8"/>
<line x1="489.4" y1="296.55" x2="492.6" y2="296.55" stroke="#444" stroke-width="0.8"/>
<line x1="489.4" y1="313.39" x2="492.6" y2="313.39" stroke="#444" stroke-width="0.8"/>
<circle cx="491.0" cy="304.97" r="2.4" fill="#000"/>
<text transform="translate(302.5,335.4) rotate(-90)" font-size="9.5" font-weight="bold" text-anchor="middle" font-family="&quot;Liberation Sans&quot;, sans-serif">Percentage viability</text>
<text x="409.5" y="424.5" font-size="9.5" font-weight="bold" text-anchor="middle" font-family="&quot;Liberation Sans&quot;, sans-serif">[LC-1] µM</text>
</svg></body></html>
